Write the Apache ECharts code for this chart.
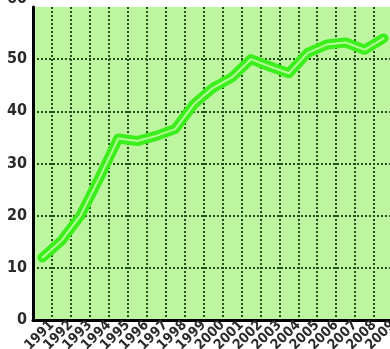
<!DOCTYPE html>
<html>
<head>
<meta charset="utf-8">
<script src="https://cdn.jsdelivr.net/npm/echarts@6/dist/echarts.min.js"></script>
<style>
  html, body { margin: 0; padding: 0; background: #fff; }
  #chart { width: 390px; height: 349px; }
</style>
</head>
<body>
<div id="chart"></div>
<script>
// 年份与数值
const years = ['1991','1992','1993','1994','1995','1996','1997','1998','1999','2000',
               '2001','2002','2003','2004','2005','2006','2007','2008','2009'];
const values = [12, 15.2, 20, 27.2, 34.8, 34.3, 35.3, 36.6, 41.4, 44.5,
                46.5, 50, 48.6, 47.3, 51.2, 52.8, 53.2, 51.8, 54];
const yTicks = [0, 10, 20, 30, 40, 50, 60];

const chart = echarts.init(document.getElementById('chart'));

const gridLine = { show: true, interval: 0, lineStyle: { color: '#24501a', type: 'dotted', width: 2 } };
const labelFont = { fontWeight: 'bold', fontFamily: 'DejaVu Sans Condensed', color: '#2b2b2b' };

const option = {
    animation: false,
    backgroundColor: '#fff',
    grid: {
        left: 33, right: -3, top: 7, bottom: 29,
        outerBoundsMode: 'none', containLabel: false,
        show: true, backgroundColor: '#bdf5a1', borderWidth: 0
    },
    xAxis: [
        {
            type: 'category',
            data: years,
            boundaryGap: true,
            axisLine: { show: true, lineStyle: { color: '#000', width: 3 } },
            axisTick: { show: false },
            axisLabel: { show: false },
            splitLine: gridLine
        },
        {
            // 标签放在每个年份格子的右边界处
            type: 'category',
            data: [''].concat(years),
            boundaryGap: false,
            position: 'bottom',
            axisLine: { show: false },
            axisTick: { show: false },
            splitLine: { show: false },
            axisLabel: Object.assign({ rotate: 45, interval: 0, margin: 3, fontSize: 14, hideOverlap: false }, labelFont)
        }
    ],
    yAxis: {
        type: 'value',
        min: yTicks[0], max: yTicks[yTicks.length - 1], interval: 10,
        axisLine: { show: true, lineStyle: { color: '#000', width: 3 } },
        axisTick: { show: false },
        axisLabel: Object.assign({
            margin: 6, fontSize: 16,
            formatter: v => v === 60 ? '{top|60}' : String(v),
            rich: { top: Object.assign({ fontSize: 16, padding: [0, 0, 17, 0] }, labelFont) }
        }, labelFont),
        splitLine: Object.assign({ showMaxLine: false }, gridLine)
    },
    series: [
        {
            type: 'line', data: values, symbol: 'none',
            lineStyle: { color: '#3cef1c', width: 10, cap: 'round', join: 'round' },
            z: 3
        },
        {
            type: 'line', data: values, symbol: 'none',
            lineStyle: { color: '#b4ff96', width: 2, cap: 'round', join: 'round' },
            z: 4
        }
    ]
};
chart.setOption(option);
</script>
</body>
</html>
